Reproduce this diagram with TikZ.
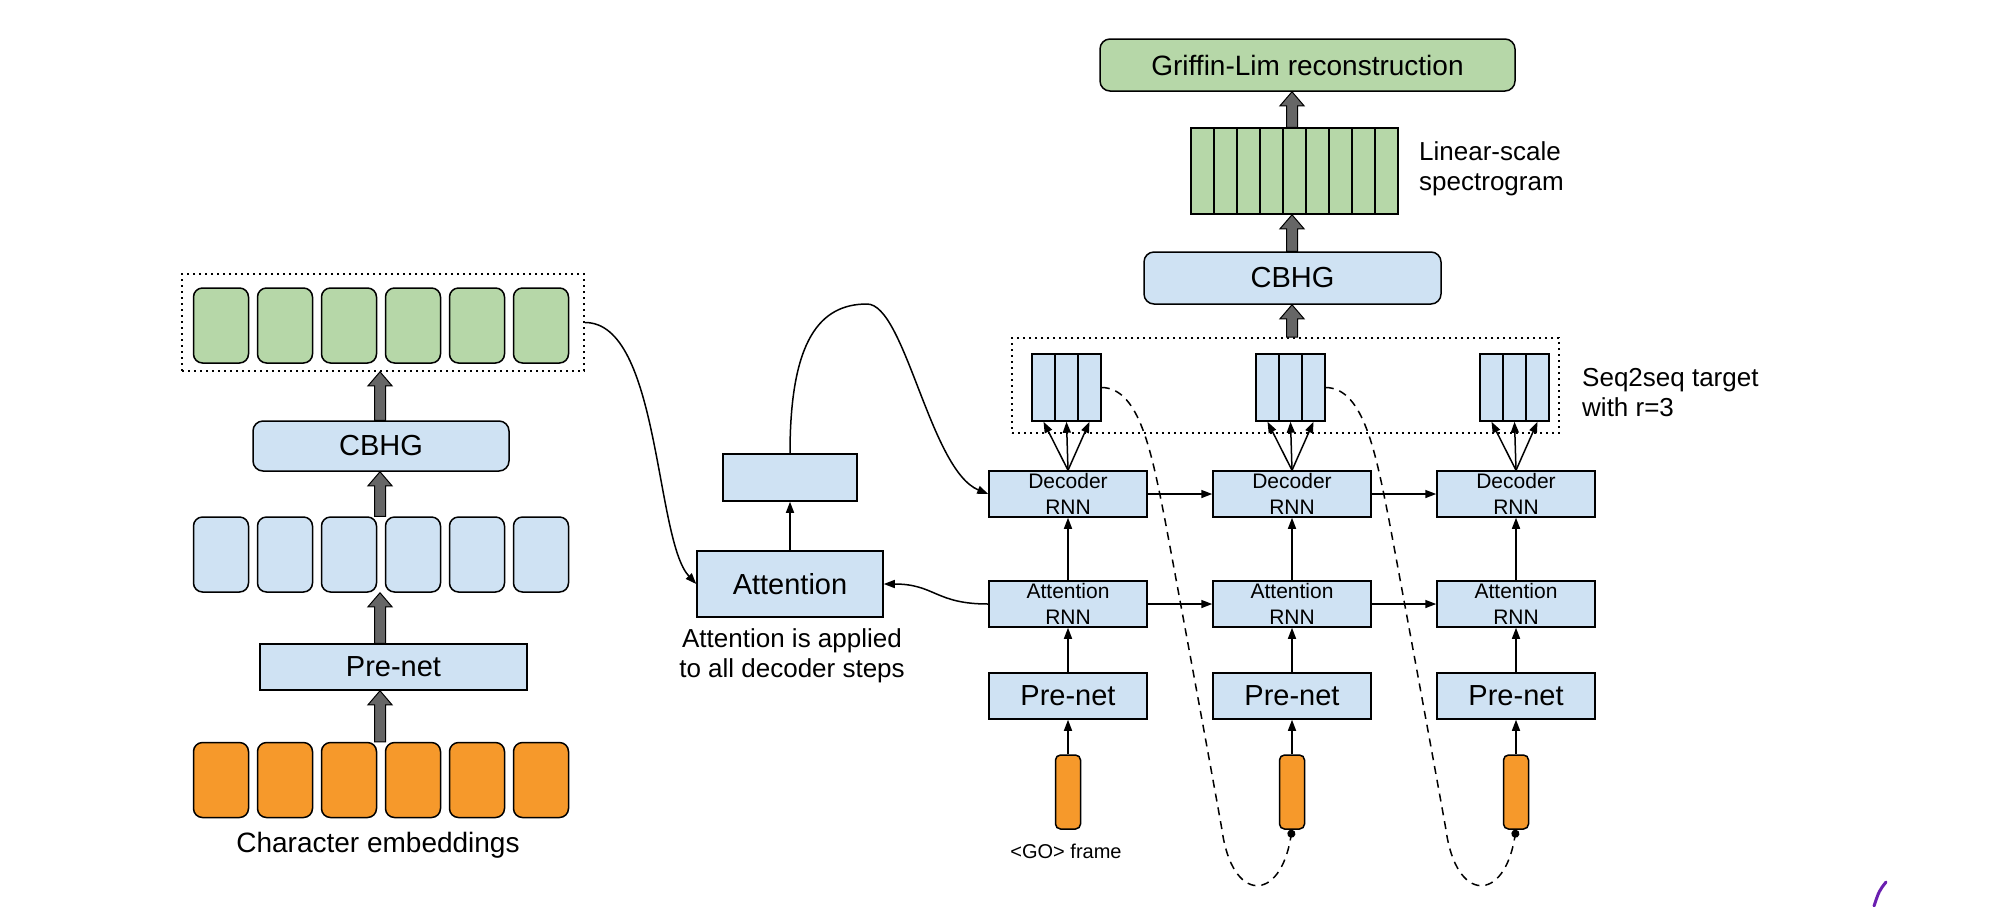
\documentclass[tikz,border=0pt]{standalone}
\usepackage{fontspec}
\setmainfont{Liberation Sans}
\usetikzlibrary{calc,arrows.meta}

\definecolor{boxblue}{HTML}{CFE2F3}
\definecolor{boxgreen}{HTML}{B6D7A8}
\definecolor{boxorange}{HTML}{F6992B}
\definecolor{fatgray}{HTML}{666666}
\definecolor{inkpurple}{HTML}{6A1FB0}

\tikzset{
	cell/.style={draw, line width=1.5pt, inner sep=0pt, rounded corners=9pt, minimum width=55pt, minimum height=75pt},
	block/.style={draw, line width=1.5pt, inner sep=0pt, fill=boxblue, font=\fontsize{29}{34}\selectfont},
	rnn/.style={draw, line width=1.5pt, inner sep=0pt, fill=boxblue, minimum width=158pt, minimum height=46pt, align=center, font=\fontsize{21}{26}\selectfont},
	bar/.style={draw, line width=1.5pt, inner sep=0pt, minimum width=23pt},
	frame/.style={draw, line width=1.5pt, inner sep=0pt, fill=boxorange, rounded corners=5pt, minimum width=25pt, minimum height=74pt},
	link/.style={line width=1.5pt, -{Triangle[length=11pt,width=8pt]}},
	loopback/.style={line width=1.5pt, dash pattern=on 8pt off 6pt, -{Circle[length=8pt]}},
	fat/.style={draw=black, line width=1pt, fill=fatgray},
	dotbox/.style={draw, line width=1.6pt, dash pattern=on 1.6pt off 4.4pt, inner sep=0pt},
	txt/.style={inner sep=0pt, align=center, font=\fontsize{26}{30}\selectfont}
}
\def\fatarrow(#1)(#2){\draw[fat] ($(#1)+(-5.5,0)$) -- ($(#2)+(-5.5,14)$) -- ($(#2)+(-12,14)$) -- (#2) -- ($(#2)+(12,14)$) -- ($(#2)+(5.5,14)$) -- ($(#1)+(5.5,0)$) -- cycle;}

\begin{document}
\begin{tikzpicture}[x=1pt, y=-1pt]
		%%%%% START %%%%%
		\useasboundingbox (0,0) rectangle (2004,906);
		
		% encoder
		\node[cell, fill=boxorange] (emb1) at (221,780) {};
		\node[cell, fill=boxorange] (emb2) at (285,780) {};
		\node[cell, fill=boxorange] (emb3) at (349,780) {};
		\node[cell, fill=boxorange] (emb4) at (413,780) {};
		\node[cell, fill=boxorange] (emb5) at (477,780) {};
		\node[cell, fill=boxorange] (emb6) at (541,780) {};
		\node[txt, font=\fontsize{28}{32}\selectfont, anchor=base] (embtxt) at (378,852) {Character embeddings};
		
		\node[block, minimum width=267pt, minimum height=46pt] (prenetL) at (393.5,667) {Pre-net};
		
		\node[cell, fill=boxblue] (hid1) at (221,554.5) {};
		\node[cell, fill=boxblue] (hid2) at (285,554.5) {};
		\node[cell, fill=boxblue] (hid3) at (349,554.5) {};
		\node[cell, fill=boxblue] (hid4) at (413,554.5) {};
		\node[cell, fill=boxblue] (hid5) at (477,554.5) {};
		\node[cell, fill=boxblue] (hid6) at (541,554.5) {};
		
		\node[block, rounded corners=10pt, minimum width=256pt, minimum height=50pt] (cbhgL) at (381,446) {CBHG};
		
		\node[dotbox, minimum width=402pt, minimum height=97pt] (enc) at (383,322.5) {};
		\node[cell, fill=boxgreen] (out1) at (221,325.5) {};
		\node[cell, fill=boxgreen] (out2) at (285,325.5) {};
		\node[cell, fill=boxgreen] (out3) at (349,325.5) {};
		\node[cell, fill=boxgreen] (out4) at (413,325.5) {};
		\node[cell, fill=boxgreen] (out5) at (477,325.5) {};
		\node[cell, fill=boxgreen] (out6) at (541,325.5) {};
		
		\coordinate (axL) at (380,0);
		\fatarrow(emb3.north -| axL)(prenetL.south -| axL)
		\fatarrow(prenetL.north -| axL)(hid3.south -| axL)
		\fatarrow(hid3.north -| axL)(cbhgL.south -| axL)
		\fatarrow(cbhgL.north -| axL)(enc.south -| axL)
		
		% attention
		\node[block, minimum width=186pt, minimum height=66pt] (att) at (790,584) {Attention};
		\node[txt] (atttxt) at (792,656) {Attention is applied\\to all decoder steps};
		\node[block, minimum width=134pt, minimum height=47pt] (ctx) at (790,477.5) {};
		
		% decoder steps
		\node[rnn] (dec1) at (1068,494) {Decoder\\RNN};
		\node[rnn] (dec2) at (1292,494) {Decoder\\RNN};
		\node[rnn] (dec3) at (1516,494) {Decoder\\RNN};
		\node[rnn] (arnn1) at (1068,604) {Attention\\RNN};
		\node[rnn] (arnn2) at (1292,604) {Attention\\RNN};
		\node[rnn] (arnn3) at (1516,604) {Attention\\RNN};
		\node[block, minimum width=158pt, minimum height=46pt] (pre1) at (1068,696) {Pre-net};
		\node[block, minimum width=158pt, minimum height=46pt] (pre2) at (1292,696) {Pre-net};
		\node[block, minimum width=158pt, minimum height=46pt] (pre3) at (1516,696) {Pre-net};
		\node[frame] (frm1) at (1068,792) {};
		\node[frame] (frm2) at (1292,792) {};
		\node[frame] (frm3) at (1516,792) {};
		\node[txt, font=\fontsize{20}{24}\selectfont, anchor=base] (gotxt) at (1066,858) {<GO> frame};
		
		\node[dotbox, minimum width=547pt, minimum height=95pt] (tgt) at (1285.5,385.5) {};
		\node[bar, fill=boxblue, minimum height=67pt] (t1a) at (1043.5,387.5) {};
		\node[bar, fill=boxblue, minimum height=67pt] (t1b) at (1066.5,387.5) {};
		\node[bar, fill=boxblue, minimum height=67pt] (t1c) at (1089.5,387.5) {};
		\node[bar, fill=boxblue, minimum height=67pt] (t2a) at (1267.5,387.5) {};
		\node[bar, fill=boxblue, minimum height=67pt] (t2b) at (1290.5,387.5) {};
		\node[bar, fill=boxblue, minimum height=67pt] (t2c) at (1313.5,387.5) {};
		\node[bar, fill=boxblue, minimum height=67pt] (t3a) at (1491.5,387.5) {};
		\node[bar, fill=boxblue, minimum height=67pt] (t3b) at (1514.5,387.5) {};
		\node[bar, fill=boxblue, minimum height=67pt] (t3c) at (1537.5,387.5) {};
		\node[txt, align=left, anchor=west] (tgttxt) at (1582,393) {Seq2seq target\\with r=3};
		
		% post-processing
		\node[block, rounded corners=10pt, minimum width=297pt, minimum height=52pt] (cbhgR) at (1292.5,278) {CBHG};
		\node[bar, fill=boxgreen, minimum height=86pt] (spec1) at (1202.5,171) {};
		\node[bar, fill=boxgreen, minimum height=86pt] (spec2) at (1225.5,171) {};
		\node[bar, fill=boxgreen, minimum height=86pt] (spec3) at (1248.5,171) {};
		\node[bar, fill=boxgreen, minimum height=86pt] (spec4) at (1271.5,171) {};
		\node[bar, fill=boxgreen, minimum height=86pt] (spec5) at (1294.5,171) {};
		\node[bar, fill=boxgreen, minimum height=86pt] (spec6) at (1317.5,171) {};
		\node[bar, fill=boxgreen, minimum height=86pt] (spec7) at (1340.5,171) {};
		\node[bar, fill=boxgreen, minimum height=86pt] (spec8) at (1363.5,171) {};
		\node[bar, fill=boxgreen, minimum height=86pt] (spec9) at (1386.5,171) {};
		\node[txt, align=left, anchor=west] (spectxt) at (1419,169) {Linear-scale\\spectrogram};
		\node[block, fill=boxgreen, rounded corners=10pt, minimum width=415pt, minimum height=52pt, font=\fontsize{28}{32}\selectfont] (gl) at (1307.5,65) {Griffin-Lim reconstruction};
		
		\coordinate (axR) at (1292,0);
		\fatarrow(tgt.north -| axR)(cbhgR.south -| axR)
		\fatarrow(cbhgR.north -| axR)(spec5.south -| axR)
		\fatarrow(spec5.north -| axR)(gl.south -| axR)
		
		% connectors
		\draw[link] (enc.east) .. controls (660,322) and (655,540) .. (att.west);
		\draw[link] (arnn1.west) .. controls (935,604) and (935,584) .. (att.east);
		\draw[link] (att.north) -- (ctx.south);
		\draw[link] (ctx.north) .. controls (790,340) and (820,304) .. (867,304) .. controls (905,304) and (930,470) .. (dec1.west);
		
		\draw[link] (dec1.east) -- (dec2.west);
		\draw[link] (dec2.east) -- (dec3.west);
		\draw[link] (arnn1.east) -- (arnn2.west);
		\draw[link] (arnn2.east) -- (arnn3.west);
		
		\draw[link] (arnn1.north) -- (dec1.south);
		\draw[link] (arnn2.north) -- (dec2.south);
		\draw[link] (arnn3.north) -- (dec3.south);
		\draw[link] (pre1.north) -- (arnn1.south);
		\draw[link] (pre2.north) -- (arnn2.south);
		\draw[link] (pre3.north) -- (arnn3.south);
		\draw[link] (frm1.north) -- (pre1.south);
		\draw[link] (frm2.north) -- (pre2.south);
		\draw[link] (frm3.north) -- (pre3.south);
		
		\draw[link] (dec1.north) -- (t1a.south);
		\draw[link] (dec1.north) -- (t1b.south);
		\draw[link] (dec1.north) -- (t1c.south);
		\draw[link] (dec2.north) -- (t2a.south);
		\draw[link] (dec2.north) -- (t2b.south);
		\draw[link] (dec2.north) -- (t2c.south);
		\draw[link] (dec3.north) -- (t3a.south);
		\draw[link] (dec3.north) -- (t3b.south);
		\draw[link] (dec3.north) -- (t3c.south);
		
		\draw[loopback] (t1c.east) .. controls (1140,388) and (1152,455) .. (1165,520) .. controls (1180,600) and (1215,790) .. (1222,830) .. controls (1232,903) and (1280,903) .. (frm2.south);
		\draw[loopback] (t2c.east) .. controls (1364,388) and (1376,455) .. (1389,520) .. controls (1404,600) and (1439,790) .. (1446,830) .. controls (1456,903) and (1504,903) .. (frm3.south);
		
		\draw[inkpurple, line width=3pt, line cap=round] (1886,882) .. controls (1879,891) .. (1874,906);
		
		%%%%% END %%%%%
\end{tikzpicture}
\end{document}
